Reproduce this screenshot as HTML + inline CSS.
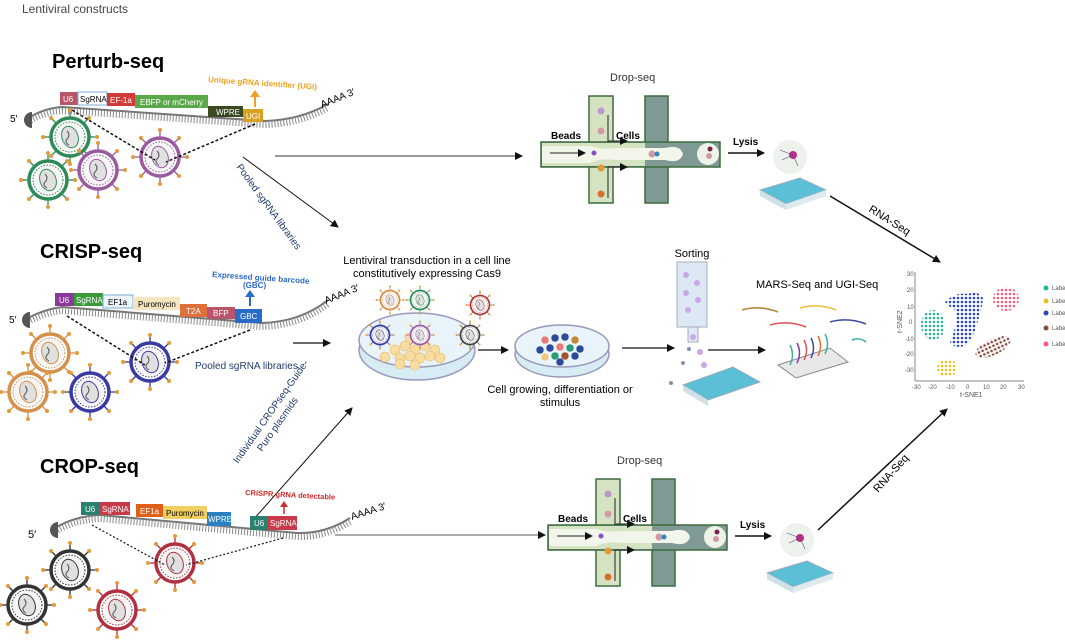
<!DOCTYPE html>
<html><head><meta charset="utf-8"><style>
html,body{margin:0;padding:0;background:#fff}
svg{display:block;font-family:"Liberation Sans",sans-serif}
</style></head><body>
<svg width="1065" height="640" viewBox="0 0 1065 640" xmlns="http://www.w3.org/2000/svg">
<defs>
<pattern id="pT" width="4" height="4" patternUnits="userSpaceOnUse"><circle cx="2" cy="2" r="1.3" fill="#2ab0a0"/></pattern>
<pattern id="pB" width="4" height="4" patternUnits="userSpaceOnUse"><circle cx="2" cy="2" r="1.3" fill="#2a4ab0"/></pattern>
<pattern id="pP" width="4" height="4" patternUnits="userSpaceOnUse"><circle cx="2" cy="2" r="1.3" fill="#f06080"/></pattern>
<pattern id="pR" width="4" height="4" patternUnits="userSpaceOnUse"><circle cx="2" cy="2" r="1.3" fill="#8a4a3a"/></pattern>
<pattern id="pY" width="4" height="4" patternUnits="userSpaceOnUse"><circle cx="2" cy="2" r="1.3" fill="#e8c020"/></pattern>
<marker id="ah" markerWidth="8" markerHeight="8" refX="7" refY="4" orient="auto" markerUnits="userSpaceOnUse"><path d="M0,0 L8,4 L0,8 z" fill="#111"/></marker>
<g id="vir">
 <g stroke="currentColor" stroke-width="1.3">
  <line x1="0" y1="-20" x2="0" y2="-28"/><line x1="0" y1="20" x2="0" y2="28"/>
  <line x1="-20" y1="0" x2="-28" y2="0"/><line x1="20" y1="0" x2="28" y2="0"/>
  <line x1="14" y1="14" x2="20" y2="20"/><line x1="-14" y1="14" x2="-20" y2="20"/>
  <line x1="14" y1="-14" x2="20" y2="-20"/><line x1="-14" y1="-14" x2="-20" y2="-20"/>
 </g>
 <g fill="#e39a3a"><circle cx="0" cy="-27" r="2"/><circle cx="19" cy="-19" r="2"/><circle cx="27" cy="0" r="2"/><circle cx="19" cy="19" r="2"/><circle cx="0" cy="27" r="2"/><circle cx="-19" cy="19" r="2"/><circle cx="-27" cy="0" r="2"/><circle cx="-19" cy="-19" r="2"/></g>
 <circle r="19" fill="#fff" stroke="currentColor" stroke-width="3.5"/>
 <circle r="15" fill="#f6f6f6" stroke="currentColor" stroke-width="1" stroke-dasharray="1.5 1.5"/>
 <ellipse rx="8" ry="11" transform="rotate(-20)" fill="#e0e0e0" stroke="currentColor" stroke-width="1"/>
 <path d="M-3,-6 q4,4 0,8 q-3,3 2,6" fill="none" stroke="#555" stroke-width="1"/>
</g>
<g id="drop">
 <rect x="589" y="96" width="24" height="107" fill="#d6e3c3" stroke="#3d6b3d" stroke-width="1.5"/>
 <rect x="645" y="96" width="23" height="107" fill="#7f9a95" stroke="#3d6b3d" stroke-width="1.5"/>
 <rect x="541" y="142" width="179" height="25" fill="#7f9a95" stroke="#3d6b3d" stroke-width="1.5"/>
 <rect x="542" y="143" width="103" height="23" fill="#d6e3c3"/>
 <path d="M542,146 H590 Q600,150 615,148 H665 Q680,144 683,154 Q680,164 665,160 H615 Q600,158 590,163 H542z" fill="#f1f5ea"/>
 <circle cx="708" cy="154" r="11" fill="#eef3e8"/>
 <circle cx="601" cy="111" r="3.5" fill="#b99ac8"/><circle cx="601" cy="131" r="3.5" fill="#d29aa2"/>
 <circle cx="601" cy="168" r="3.5" fill="#e09a3a"/><circle cx="601" cy="194" r="3.5" fill="#d7702f"/>
 <circle cx="594" cy="153" r="2.5" fill="#8a4fc8"/><circle cx="652" cy="154" r="3.5" fill="#d29aa2"/><circle cx="657" cy="154" r="2.5" fill="#2a8ac8"/>
 <circle cx="710" cy="149" r="2.5" fill="#7a2050"/><circle cx="709" cy="156" r="3" fill="#d29aa2"/>
 <path d="M608,115 V141 H627" fill="none" stroke="#222" stroke-width="1" marker-end="url(#ah)"/>
 <path d="M608,198 V167 H627" fill="none" stroke="#222" stroke-width="1" marker-end="url(#ah)"/>
 <line x1="550" y1="153" x2="585" y2="153" stroke="#222" stroke-width="1" marker-end="url(#ah)"/>
 <text x="551" y="139" font-size="10" font-weight="bold">Beads</text>
 <text x="616" y="139" font-size="10" font-weight="bold">Cells</text>
 <text x="610" y="81" font-size="11" fill="#333">Drop-seq</text>
 <text x="733" y="145" font-size="10" font-weight="bold">Lysis</text>
 <line x1="728" y1="153" x2="764" y2="153" stroke="#111" stroke-width="1.5" marker-end="url(#ah)"/>
 <path d="M760,190 L800,178 L826,190 L786,204z" fill="#5bc0d6" stroke="#9ab" stroke-width="1"/>
 <path d="M760,190 L786,204 L786,210 L760,196z" fill="#cfe0e6"/><path d="M786,204 L826,190 L826,196 L786,210z" fill="#dfeaee"/>
 <circle cx="790" cy="157" r="17" fill="#eef2ec"/><circle cx="793" cy="155" r="4" fill="#c02a8a"/>
 <g stroke="#557" stroke-width="0.6"><line x1="793" y1="155" x2="780" y2="150"/><line x1="793" y1="155" x2="782" y2="160"/><line x1="793" y1="155" x2="798" y2="166"/></g>
</g>
</defs>

<text x="22" y="13" font-size="12" fill="#444">Lentiviral constructs</text>

<!-- Perturb-seq -->
<text x="52" y="68" font-size="20" font-weight="bold">Perturb-seq</text>
<path d="M28,118 Q45,108 62,107 L265,121 Q300,120 328,104" fill="none" stroke="#777" stroke-width="2"/>
<path d="M28,122 Q45,112 62,111 L265,125 Q300,124 328,108" fill="none" stroke="#888" stroke-width="6" stroke-dasharray="1 2"/>
<path d="M32,112 a8,8 0 0 0 0,16 z" fill="#555"/><text x="10" y="122" font-size="10">5′</text>
<text x="322" y="108" font-size="10" transform="rotate(-22 322 108)">AAAA 3′</text>
<rect x="60" y="92" width="18" height="13" fill="#b9556a"/><text x="63" y="102" font-size="8" fill="#fff">U6</text>
<rect x="78" y="92" width="29" height="13" fill="#fff" stroke="#7aaed6"/><text x="80" y="102" font-size="8">SgRNA</text>
<rect x="107" y="93" width="28" height="13" fill="#d23a3a"/><text x="110" y="103" font-size="8" fill="#fff">EF-1a</text>
<rect x="135" y="95" width="73" height="13" fill="#5aa84a"/><text x="140" y="105" font-size="8" fill="#fff">EBFP or mCherry</text>
<rect x="208" y="106" width="35" height="11" fill="#3a4a20"/><text x="216" y="115" font-size="8" fill="#fff">WPRE</text>
<rect x="243" y="109" width="20" height="13" fill="#d8a020"/><text x="246" y="119" font-size="8" fill="#fff">UGI</text>
<text x="208" y="82" font-size="8" font-weight="bold" fill="#f0a020" transform="rotate(4 208 82)">Unique gRNA identifier (UGI)</text>
<line x1="255" y1="107" x2="255" y2="96" stroke="#f0a020" stroke-width="2"/><path d="M250,97 L255,90 L260,97z" fill="#f0a020"/>
<use href="#vir" x="70" y="137" color="#2f8a5a"/><use href="#vir" x="48" y="180" color="#2f8a5a"/>
<use href="#vir" x="98" y="170" color="#9a5aa0"/><use href="#vir" x="160" y="157" color="#9a5aa0"/>
<line x1="72" y1="110" x2="155" y2="160" stroke="#111" stroke-width="1.5" stroke-dasharray="3 2"/>
<line x1="255" y1="124" x2="166" y2="162" stroke="#111" stroke-width="1.5" stroke-dasharray="3 2"/>
<line x1="275" y1="156" x2="522" y2="156" stroke="#333" stroke-width="1" marker-end="url(#ah)"/>
<line x1="243" y1="157" x2="338" y2="227" stroke="#111" stroke-width="1" marker-end="url(#ah)"/>
<text x="236" y="167" font-size="10" fill="#1f3a6e" transform="rotate(54 236 167)">Pooled sgRNA libraries</text>

<use href="#drop"/>
<use href="#drop" transform="translate(7,383)"/>

<line x1="830" y1="196" x2="940" y2="262" stroke="#111" stroke-width="1.5" marker-end="url(#ah)"/>
<text x="868" y="211" font-size="11" transform="rotate(32 868 211)">RNA-Seq</text>

<!-- CRISP-seq -->
<text x="40" y="258" font-size="20" font-weight="bold">CRISP-seq</text>
<path d="M28,318 Q45,309 62,307 L262,323 Q300,322 328,300" fill="none" stroke="#777" stroke-width="2"/>
<path d="M28,322 Q45,313 62,311 L262,327 Q300,326 328,304" fill="none" stroke="#888" stroke-width="6" stroke-dasharray="1 2"/>
<path d="M30,312 a8,8 0 0 0 0,16 z" fill="#555"/><text x="9" y="323" font-size="10">5′</text>
<text x="326" y="304" font-size="10" transform="rotate(-22 326 304)">AAAA 3′</text>
<rect x="55" y="293" width="19" height="13" fill="#8a3a9a"/><text x="59" y="303" font-size="8" fill="#fff">U6</text>
<rect x="74" y="293" width="29" height="13" fill="#3a9a3a"/><text x="76" y="303" font-size="8" fill="#fff">SgRNA</text>
<rect x="103" y="295" width="30" height="13" fill="#eef4fb" stroke="#7aaed6"/><text x="108" y="305" font-size="8">EF1a</text>
<rect x="133" y="297" width="47" height="13" fill="#f6e6c0"/><text x="138" y="307" font-size="8">Puromycin</text>
<rect x="180" y="304" width="27" height="13" fill="#e0703a"/><text x="186" y="314" font-size="8" fill="#fff">T2A</text>
<rect x="207" y="307" width="28" height="12" fill="#b9556a"/><text x="213" y="316" font-size="8" fill="#fff">BFP</text>
<rect x="235" y="309" width="27" height="14" fill="#2a6ac8"/><text x="240" y="319" font-size="8" fill="#fff">GBC</text>
<text x="212" y="277" font-size="8" font-weight="bold" fill="#2a6ac8" transform="rotate(4 212 277)">Expressed guide barcode</text>
<text x="243" y="288" font-size="8" font-weight="bold" fill="#2a6ac8">(GBC)</text>
<line x1="250" y1="306" x2="250" y2="296" stroke="#2a6ac8" stroke-width="2"/><path d="M245,297 L250,290 L255,297z" fill="#2a6ac8"/>
<use href="#vir" x="50" y="353" color="#d4904a"/><use href="#vir" x="28" y="392" color="#d4904a"/>
<use href="#vir" x="90" y="392" color="#3a3aa0"/><use href="#vir" x="150" y="362" color="#3a3aa0"/>
<line x1="67" y1="316" x2="145" y2="365" stroke="#111" stroke-width="1.5" stroke-dasharray="3 2"/>
<line x1="250" y1="330" x2="165" y2="363" stroke="#111" stroke-width="1.5" stroke-dasharray="3 2"/>
<text x="195" y="369" font-size="10" fill="#1f3a6e">Pooled sgRNA libraries</text>
<line x1="293" y1="343" x2="330" y2="343" stroke="#111" stroke-width="1.2" marker-end="url(#ah)"/>

<!-- middle -->
<text x="427" y="264" font-size="11" text-anchor="middle">Lentiviral transduction in a cell line</text>
<text x="427" y="277" font-size="11" text-anchor="middle">constitutively expressing Cas9</text>
<ellipse cx="417" cy="350" rx="58" ry="30" fill="#d8ecf4" stroke="#99b" stroke-width="1.5"/>
<ellipse cx="417" cy="340" rx="58" ry="27" fill="#e8f4fa" stroke="#99b" stroke-width="1.5"/>
<g fill="#f8dca0" stroke="#e8b870" stroke-width="0.6">
<circle cx="395" cy="350" r="5"/><circle cx="405" cy="346" r="5"/><circle cx="415" cy="350" r="5"/><circle cx="425" cy="346" r="5"/><circle cx="435" cy="350" r="5"/><circle cx="400" cy="358" r="5"/><circle cx="410" cy="356" r="5"/><circle cx="420" cy="358" r="5"/><circle cx="430" cy="356" r="5"/><circle cx="385" cy="357" r="5"/><circle cx="440" cy="358" r="5"/><circle cx="410" cy="338" r="5"/><circle cx="425" cy="337" r="5"/><circle cx="400" cy="364" r="5"/><circle cx="415" cy="365" r="5"/></g>
<g transform="scale(0.5)"><use href="#vir" x="780" y="600" color="#d4904a"/><use href="#vir" x="840" y="600" color="#2f8a5a"/><use href="#vir" x="960" y="610" color="#b03a3a"/><use href="#vir" x="760" y="670" color="#3a3aa0"/><use href="#vir" x="840" y="670" color="#9a5aa0"/><use href="#vir" x="940" y="670" color="#444"/></g>
<line x1="478" y1="350" x2="508" y2="350" stroke="#111" stroke-width="1.2" marker-end="url(#ah)"/>
<ellipse cx="562" cy="354" rx="47" ry="23" fill="#d8ecf4" stroke="#99b" stroke-width="1.5"/>
<ellipse cx="562" cy="346" rx="47" ry="21" fill="#e8f4fa" stroke="#99b" stroke-width="1.5"/>
<g stroke="#fff" stroke-width="0.5"><circle cx="545" cy="340" r="4" fill="#e87a7a"/><circle cx="555" cy="338" r="4" fill="#2a4a9a"/><circle cx="565" cy="337" r="4" fill="#2a4a9a"/><circle cx="575" cy="340" r="4" fill="#c08a3a"/><circle cx="550" cy="348" r="4" fill="#2a4a9a"/><circle cx="560" cy="347" r="4" fill="#e87a7a"/><circle cx="570" cy="348" r="4" fill="#2a9a7a"/><circle cx="580" cy="349" r="4" fill="#2a4a9a"/><circle cx="540" cy="350" r="4" fill="#2a4a9a"/><circle cx="555" cy="356" r="4" fill="#2a9a7a"/><circle cx="565" cy="356" r="4" fill="#a05030"/><circle cx="575" cy="356" r="4" fill="#2a4a9a"/><circle cx="545" cy="357" r="4" fill="#f0c880"/><circle cx="560" cy="362" r="4" fill="#2a4a9a"/></g>
<text x="560" y="393" font-size="11" text-anchor="middle">Cell growing, differentiation or</text>
<text x="560" y="406" font-size="11" text-anchor="middle">stimulus</text>
<line x1="622" y1="348" x2="674" y2="348" stroke="#111" stroke-width="1.2" marker-end="url(#ah)"/>
<text x="692" y="257" font-size="11" text-anchor="middle">Sorting</text>
<rect x="677" y="262" width="30" height="65" fill="#dce8f4" stroke="#aab"/>
<rect x="688" y="327" width="10" height="15" fill="#dce8f4" stroke="#aab"/>
<g fill="#c8a8e8"><circle cx="686" cy="275" r="3"/><circle cx="697" cy="283" r="3"/><circle cx="686" cy="293" r="3"/><circle cx="698" cy="300" r="3"/><circle cx="688" cy="310" r="3"/><circle cx="693" cy="337" r="3"/><circle cx="700" cy="352" r="3"/><circle cx="704" cy="365" r="3"/></g>
<g fill="#8890b0"><circle cx="689" cy="349" r="2"/><circle cx="683" cy="363" r="2"/><circle cx="671" cy="383" r="2"/></g>
<path d="M683,385 L733,367 L760,382 L708,400z" fill="#5bc0d6" stroke="#9ab"/><path d="M683,385 L708,400 L708,406 L683,391z" fill="#cfe0e6"/>
<line x1="708" y1="350" x2="765" y2="350" stroke="#111" stroke-width="1.2" marker-end="url(#ah)"/>
<text x="756" y="288" font-size="11">MARS-Seq and UGI-Seq</text>
<g fill="none" stroke-width="1.5"><path d="M742,310 q18,-5 36,2" stroke="#b08030"/><path d="M800,308 q18,-5 36,2" stroke="#e8c030"/><path d="M770,325 q18,-5 36,2" stroke="#e05050"/><path d="M830,322 q18,-5 36,2" stroke="#3a4a9a"/><path d="M852,340 q8,-3 14,2" stroke="#3ab0a0"/></g>
<path d="M778,365 L830,348 L848,362 L796,378z" fill="#e8e8e8" stroke="#888"/>
<g fill="none" stroke-width="1.5"><path d="M790,365 q5,-10 0,-20" stroke="#3ab0a0"/><path d="M797,363 q5,-10 0,-20" stroke="#7a3ab0"/><path d="M804,360 q5,-10 0,-20" stroke="#e05050"/><path d="M811,358 q5,-10 0,-20" stroke="#3a4a9a"/><path d="M818,356 q5,-10 0,-20" stroke="#e07030"/><path d="M825,354 q5,-10 0,-20" stroke="#3ab0a0"/></g>

<!-- tSNE -->
<g font-size="6" fill="#555">
<line x1="915" y1="272" x2="915" y2="381" stroke="#888"/><line x1="915" y1="381" x2="1024" y2="381" stroke="#888"/>
<text x="907" y="276">30</text><text x="907" y="292">20</text><text x="907" y="309">10</text><text x="909" y="324">0</text><text x="905" y="341">-10</text><text x="905" y="356">-20</text><text x="905" y="372">-30</text>
<text x="912" y="389">-30</text><text x="928" y="389">-20</text><text x="946" y="389">-10</text><text x="966" y="389">0</text><text x="983" y="389">10</text><text x="1000" y="389">20</text><text x="1018" y="389">30</text>
<text x="960" y="397" font-size="7">t-SNE1</text><text x="902" y="333" font-size="7" transform="rotate(-90 902 333)">t-SNE2</text>
<circle cx="1046" cy="288" r="2.5" fill="#2ab0a0"/><text x="1052" y="290">Label</text>
<circle cx="1046" cy="301" r="2.5" fill="#e8c020"/><text x="1052" y="303">Label</text>
<circle cx="1046" cy="313" r="2.5" fill="#2a4ab0"/><text x="1052" y="315">Label</text>
<circle cx="1046" cy="328" r="2.5" fill="#8a4a3a"/><text x="1052" y="330">Label</text>
<circle cx="1046" cy="344" r="2.5" fill="#f06080"/><text x="1052" y="346">Label</text>
</g>
<ellipse cx="933" cy="325" rx="12" ry="15" fill="url(#pT)"/>
<path d="M945,302 Q955,292 968,294 Q978,290 983,298 Q982,310 978,320 Q975,335 966,345 Q955,350 950,342 Q958,325 955,310 Q948,306 945,302z" fill="url(#pB)"/>
<ellipse cx="1006" cy="299" rx="13" ry="12" fill="url(#pP)"/>
<ellipse cx="993" cy="347" rx="19" ry="8" transform="rotate(-25 993 347)" fill="url(#pR)"/>
<ellipse cx="947" cy="368" rx="10" ry="9" fill="url(#pY)"/>

<!-- CROP-seq -->
<line x1="253" y1="520" x2="352" y2="408" stroke="#111" stroke-width="1" marker-end="url(#ah)"/>
<text x="238" y="464" font-size="10" fill="#1f3a6e" transform="rotate(-55 238 464)">Individual CROPseq-Guide-</text>
<text x="262" y="452" font-size="10" fill="#1f3a6e" transform="rotate(-55 262 452)">Puro plasmids</text>
<text x="40" y="473" font-size="20" font-weight="bold">CROP-seq</text>
<path d="M55,528 Q75,516 100,515 L297,533 Q325,534 350,518" fill="none" stroke="#777" stroke-width="2"/>
<path d="M55,532 Q75,520 100,519 L297,537 Q325,538 350,522" fill="none" stroke="#888" stroke-width="6" stroke-dasharray="1 2"/>
<path d="M58,522 a8,8 0 0 0 0,16 z" fill="#555"/><text x="28" y="538" font-size="11">5′</text>
<text x="352" y="520" font-size="10" transform="rotate(-18 352 520)">AAAA  3′</text>
<rect x="81" y="502" width="19" height="13" fill="#2a8070"/><text x="85" y="512" font-size="8" fill="#fff">U6</text>
<rect x="100" y="502" width="30" height="13" fill="#c83a4a"/><text x="102" y="512" font-size="8" fill="#fff">SgRNA</text>
<rect x="136" y="504" width="27" height="13" fill="#e0601a"/><text x="140" y="514" font-size="8" fill="#fff">EF1a</text>
<rect x="163" y="506" width="44" height="13" fill="#f0d060"/><text x="166" y="516" font-size="8">Puromycin</text>
<rect x="207" y="512" width="24" height="14" fill="#2a80c0"/><text x="208" y="522" font-size="8" fill="#fff">WPRE</text>
<rect x="250" y="516" width="18" height="14" fill="#2a8070"/><text x="254" y="526" font-size="8" fill="#fff">U6</text>
<rect x="268" y="516" width="29" height="14" fill="#c83a4a"/><text x="270" y="526" font-size="8" fill="#fff">SgRNA</text>
<text x="245" y="495" font-size="7.5" font-weight="bold" fill="#d02a2a" transform="rotate(3 245 495)">CRISPR gRNA detectable</text>
<line x1="284" y1="514" x2="284" y2="506" stroke="#d02a2a" stroke-width="1.5"/><path d="M280,507 L284,501 L288,507z" fill="#d02a2a"/>
<use href="#vir" x="70" y="570" color="#333"/><use href="#vir" x="27" y="605" color="#333"/>
<use href="#vir" x="117" y="610" color="#b03040"/><use href="#vir" x="175" y="563" color="#b03040"/>
<line x1="92" y1="525" x2="165" y2="565" stroke="#111" stroke-width="1.2" stroke-dasharray="2 2"/>
<line x1="283" y1="538" x2="186" y2="565" stroke="#111" stroke-width="1.2" stroke-dasharray="2 2"/>
<line x1="335" y1="535" x2="545" y2="535" stroke="#555" stroke-width="1" marker-end="url(#ah)"/>
<line x1="818" y1="530" x2="947" y2="409" stroke="#111" stroke-width="1.5" marker-end="url(#ah)"/>
<text x="878" y="493" font-size="11" transform="rotate(-48 878 493)">RNA-Seq</text>
</svg>
</body></html>
